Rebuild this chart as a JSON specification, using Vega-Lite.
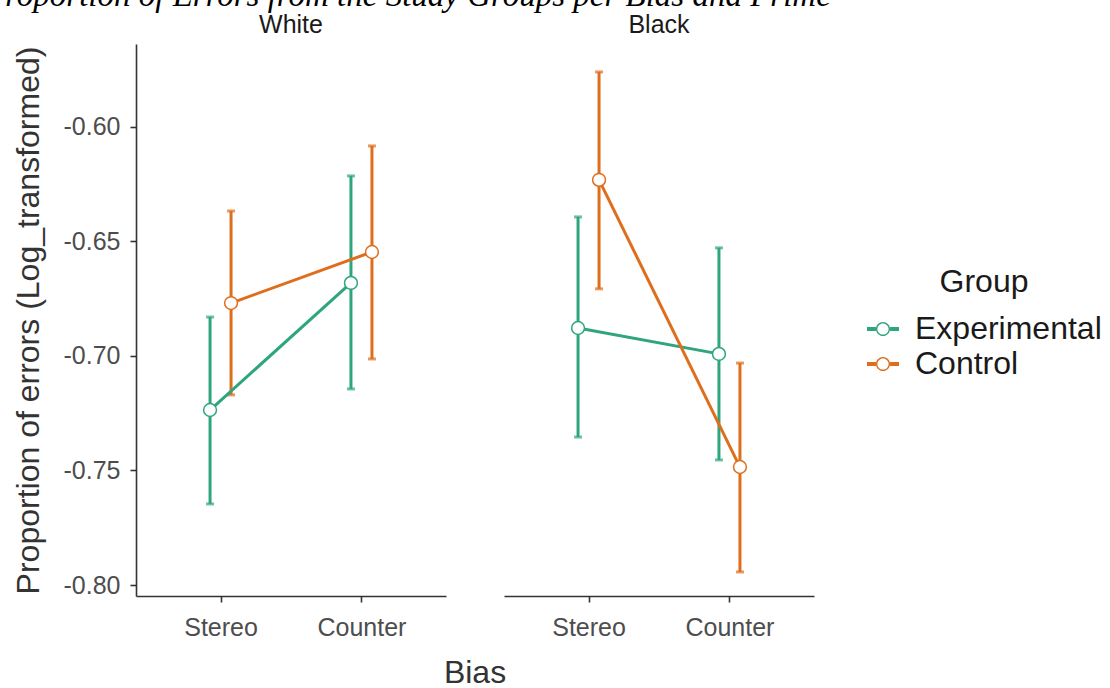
{
  "$schema": "https://vega.github.io/schema/vega-lite/v6.json",
  "padding": {"left": -15, "top": -20, "right": 5, "bottom": 5},
  "background": "white",
  "title": {
    "text": "Proportion of Errors from the Study Groups per Bias and Prime",
    "font": "Liberation Serif",
    "fontStyle": "italic",
    "fontWeight": "normal",
    "fontSize": 33,
    "color": "#000000",
    "anchor": "start",
    "frame": "bounds",
    "dx": -27,
    "offset": 0
  },
  "data": {
    "values": [
      {"prime": "White", "bias": "Stereo", "group": "Experimental", "mean": -0.7236, "lo": -0.7646, "hi": -0.683},
      {"prime": "White", "bias": "Stereo", "group": "Control", "mean": -0.6769, "lo": -0.717, "hi": -0.6367},
      {"prime": "White", "bias": "Counter", "group": "Experimental", "mean": -0.6681, "lo": -0.7144, "hi": -0.6214},
      {"prime": "White", "bias": "Counter", "group": "Control", "mean": -0.6546, "lo": -0.7013, "hi": -0.6083},
      {"prime": "Black", "bias": "Stereo", "group": "Experimental", "mean": -0.6878, "lo": -0.7354, "hi": -0.6393},
      {"prime": "Black", "bias": "Stereo", "group": "Control", "mean": -0.6231, "lo": -0.6707, "hi": -0.576},
      {"prime": "Black", "bias": "Counter", "group": "Experimental", "mean": -0.6991, "lo": -0.7454, "hi": -0.6528},
      {"prime": "Black", "bias": "Counter", "group": "Control", "mean": -0.7485, "lo": -0.7943, "hi": -0.7031}
    ]
  },
  "facet": {
    "column": {
      "field": "prime",
      "type": "nominal",
      "sort": ["White", "Black"],
      "title": "Bias",
      "header": {
        "titleOrient": "bottom",
        "labelOrient": "top",
        "labelFont": "Liberation Sans",
        "labelFontSize": 25,
        "labelColor": "#1A1A1A",
        "labelPadding": 6,
        "titleFont": "Liberation Sans",
        "titleFontSize": 32,
        "titleFontWeight": "normal",
        "titleColor": "#333333",
        "titlePadding": 8
      }
    }
  },
  "spacing": 58,
  "spec": {
    "width": 310,
    "height": 552,
    "encoding": {
      "x": {
        "field": "bias",
        "type": "nominal",
        "sort": ["Stereo", "Counter"],
        "scale": {"type": "point", "padding": 0.6, "domain": ["Stereo", "Counter"]},
        "axis": {"title": null, "labelAngle": 0, "labelPadding": 13}
      },
      "xOffset": {
        "field": "group",
        "type": "nominal",
        "scale": {"type": "point", "padding": 0, "domain": ["Experimental", "Control"], "range": [-10.5, 10.5]}
      },
      "color": {
        "field": "group",
        "type": "nominal",
        "scale": {"domain": ["Experimental", "Control"], "range": ["#2EA57F", "#DE6E1B"]},
        "legend": {
          "title": "Group",
          "orient": "none",
          "legendX": 731,
          "legendY": 223,
          "symbolType": "M-1,-0.12H-0.44V0.12H-1Z M0.44,-0.12H1V0.12H0.44Z M0.44,0A0.44,0.44 0 1,1 -0.44,0A0.44,0.44 0 1,1 0.44,0Z M0.35,0A0.35,0.35 0 1,0 -0.35,0A0.35,0.35 0 1,0 0.35,0Z",
          "symbolSize": 1024,
          "labelFont": "Liberation Sans",
          "labelFontSize": 32,
          "labelColor": "#1A1A1A",
          "labelLimit": 0,
          "titleFont": "Liberation Sans",
          "titleFontSize": 32,
          "titleFontWeight": "normal",
          "titleColor": "#1A1A1A",
          "titleAnchor": "middle",
          "titleAlign": "center",
          "titlePadding": 14,
          "rowPadding": 3,
          "labelOffset": 16,
          "padding": 0,
          "encode": {
            "symbols": {
              "update": {
                "fill": {"scale": "color", "field": "value"},
                "stroke": {"value": "transparent"},
                "strokeWidth": {"value": 0},
                "opacity": {"value": 1},
                "fillOpacity": {"value": 1}
              }
            }
          }
        }
      }
    },
    "layer": [
      {
        "mark": {"type": "rule", "strokeWidth": 3},
        "encoding": {
          "y": {
            "field": "lo",
            "type": "quantitative",
            "scale": {"domain": [-0.8048, -0.5638], "nice": false, "zero": false},
            "axis": {
              "title": "Proportion of errors (Log_transformed)",
              "values": [-0.8, -0.75, -0.7, -0.65, -0.6],
              "labelExpr": "replace(format(datum.value, '.2f'), '\u2212', '-')",
              "labelPadding": 10,
              "titlePadding": 18
            }
          },
          "y2": {"field": "hi"}
        }
      },
      {
        "mark": {"type": "tick", "thickness": 3, "size": 8},
        "encoding": {"y": {"field": "lo", "type": "quantitative"}}
      },
      {
        "mark": {"type": "tick", "thickness": 3, "size": 8},
        "encoding": {"y": {"field": "hi", "type": "quantitative"}}
      },
      {
        "mark": {"type": "line", "strokeWidth": 3},
        "encoding": {"y": {"field": "mean", "type": "quantitative"}, "detail": {"field": "group"}}
      },
      {
        "mark": {"type": "point", "shape": "circle", "filled": false, "fill": "white", "fillOpacity": 1, "opacity": 1, "strokeWidth": 1.5, "size": 165},
        "encoding": {"y": {"field": "mean", "type": "quantitative"}}
      }
    ]
  },
  "config": {
    "view": {"stroke": null},
    "font": "Liberation Sans",
    "axis": {
      "grid": false,
      "domainColor": "#333333",
      "domainWidth": 1.6,
      "tickColor": "#333333",
      "tickWidth": 1.6,
      "tickSize": 6,
      "labelFont": "Liberation Sans",
      "labelFontSize": 25,
      "labelColor": "#4D4D4D",
      "labelPadding": 5,
      "titleFont": "Liberation Sans",
      "titleFontSize": 32,
      "titleFontWeight": "normal",
      "titleColor": "#333333",
      "titlePadding": 8
    }
  }
}
